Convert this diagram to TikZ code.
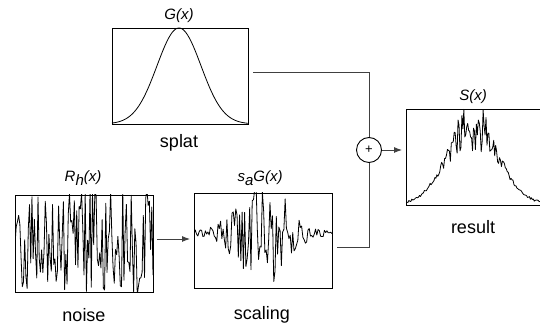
\documentclass[tikz,border=0pt]{standalone}
\usepackage{fontspec}
\setmainfont{Liberation Sans}
\usetikzlibrary{arrows.meta,calc}
\begin{document}
\begin{tikzpicture}[x=1pt,y=-1pt,
  panel/.style={draw=black,line width=0.9pt,minimum width=#1,inner sep=0pt,outer sep=0pt},
  caption/.style={font=\fontsize{18}{20}\selectfont,inner sep=0pt},
  formula/.style={font=\fontsize{15}{17}\selectfont\itshape,inner sep=0pt},
  conn/.style={draw=black!75,line width=0.9pt},
  arr/.style={conn,-{Latex[length=8pt,width=6pt]}},
  sig/.style={line width=0.8pt,line join=round}]
\useasboundingbox (0,0) rectangle (540,328);
\pgfmathsetseed{11}
% panels
\node[panel=136pt,minimum height=96pt] (splat) at (180,76) {};
\node[panel=138pt,minimum height=97pt] (noise) at (84,243.5) {};
\node[panel=138pt,minimum height=95pt] (scaling) at (263,240.5) {};
\node[panel=135pt,minimum height=96pt] (result) at (473.5,157) {};
\node[draw=black,circle,line width=0.9pt,minimum size=25pt,inner sep=0pt,font=\fontsize{13}{14}\selectfont] (sum) at (369,150) {+};
% labels
\node[formula] (lg) at (179,16) {G(x)};
\node[caption] (lsplat) at (179,143) {splat};
\node[formula] (lr) at (83,178) {R\raisebox{-0.45ex}{h}(x)};
\node[caption] (lnoise) at (84,315) {noise};
\node[formula] (ls) at (260,178) {s\raisebox{-0.45ex}{a}G(x)};
\node[caption] (lscaling) at (262,315) {scaling};
\node[formula] (lsx) at (473,97) {S(x)};
\node[caption] (lresult) at (473,227) {result};
% curves
\draw[sig] plot[domain=112:248,samples=120] (\x,{124-96*exp(-((\x-179)^2)/(2*22^2))});
\begin{scope}
  \clip (noise.south west) rectangle (noise.north east);
  \draw[sig] plot[domain=15:153,samples=115] (\x,{243.5+55*rand});
\end{scope}
\begin{scope}
  \clip (scaling.south west) rectangle (scaling.north east);
  \draw[sig] plot[domain=194:332,samples=110] (\x,{233-(2.5+58*exp(-((\x-262)^2)/(2*22^2)))*rand});
\end{scope}
\begin{scope}
  \clip (result.south west) rectangle (result.north east);
  \draw[sig] plot[domain=406:540,samples=140] (\x,{204-1.2*rand-80*exp(-((\x-473)^2)/(2*25^2))-26*(exp(-((\x-473)^2)/(2*25^2)))^2*rand});
\end{scope}
% connectors
\coordinate (s1) at (253,72);
\coordinate (s2) at (337,247);
\coordinate (n1) at (157,239);
\coordinate (n2) at (190,239);
\draw[conn] (s1) -| (sum.north);
\draw[conn] (s2) -| (sum.south);
\draw[arr] (n1) -- (n2);
\draw[arr] (sum.east) -- ([xshift=-4pt]sum.east -| result.west);
\end{tikzpicture}
\end{document}
